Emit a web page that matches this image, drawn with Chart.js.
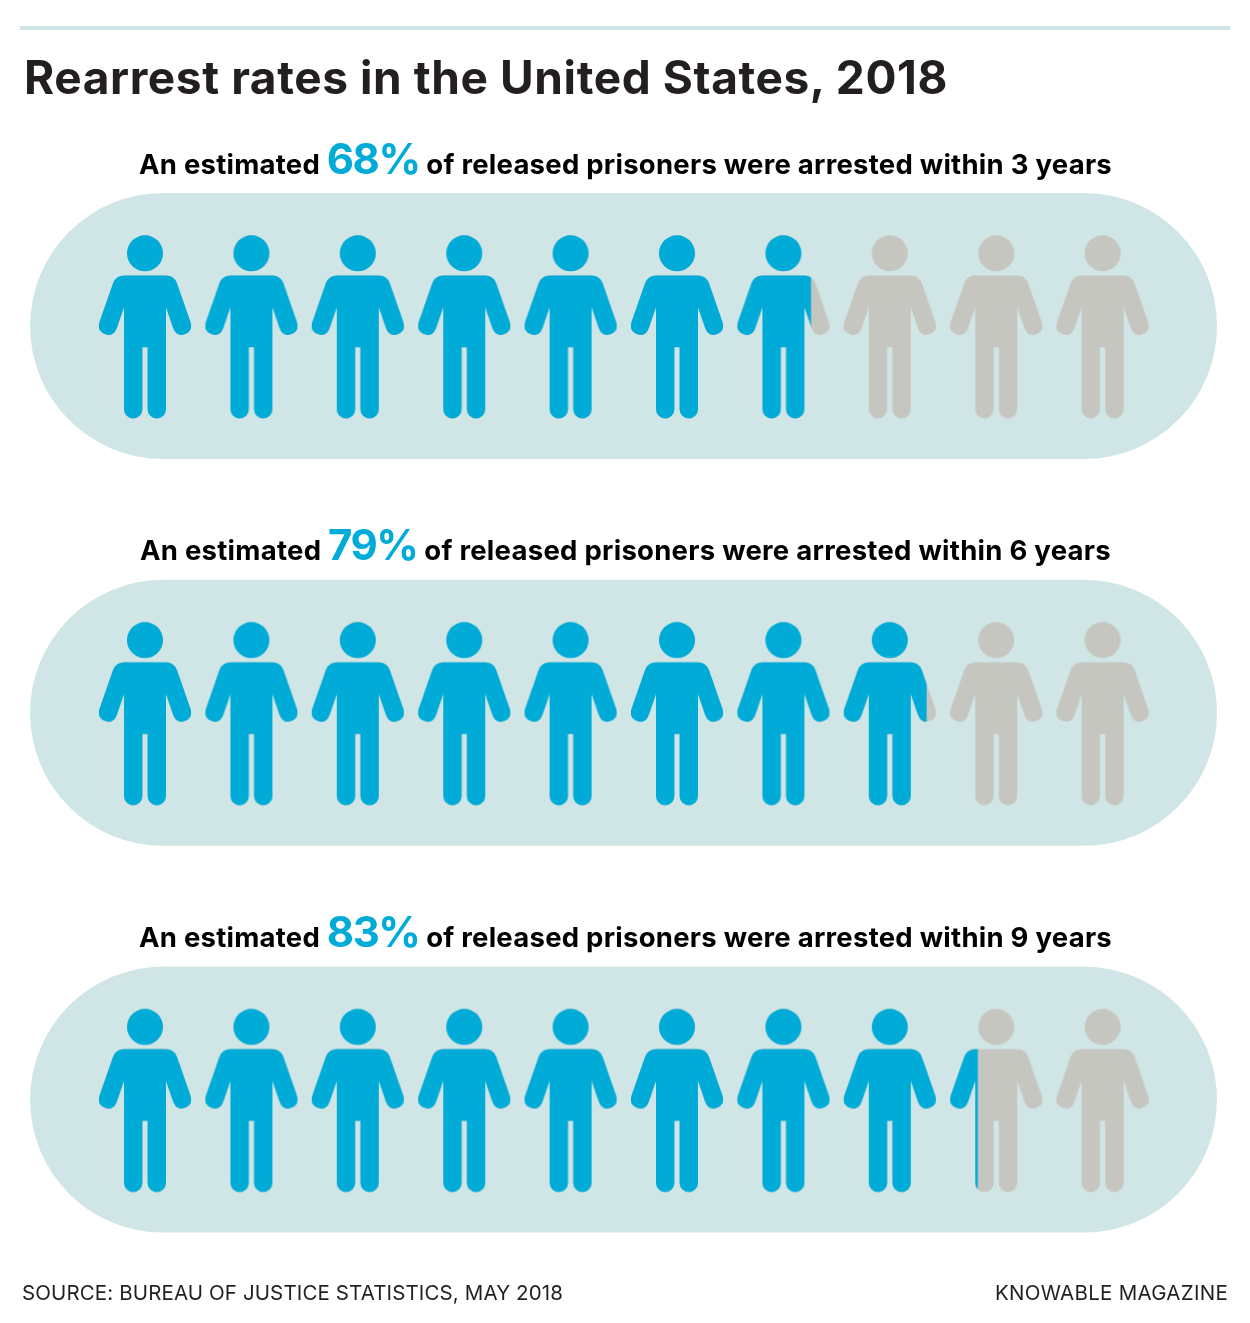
<!DOCTYPE html>
<html>
<head>
<meta charset="utf-8">
<script src="https://cdn.jsdelivr.net/npm/chart.js@4"></script>
<style>
html,body{margin:0;padding:0;background:#fff;overflow:hidden}
#wrap{position:relative;width:1250px;height:1323px;font-family:Inter,sans-serif}
canvas{position:absolute;left:0;top:0}
.t{position:absolute;white-space:nowrap;line-height:60px;height:60px}
#rule{position:absolute;left:20px;top:26px;width:1210px;height:4px;background:#d0e5e5}
#title{font-size:46px;font-weight:700;color:#231f20}
.sub{font-size:27.5px;font-weight:700;color:#000}
.sub b{font-size:42px;font-weight:700;color:#00acd7;letter-spacing:-1.5px}
.foot{font-size:20.5px;color:#231f20}
</style>
</head>
<body>
<div id="wrap">
<canvas id="c" width="1250" height="1323"></canvas>
<div id="rule"></div>
<div class="t" id="title" data-w="924" style="left:24px;top:47px">Rearrest rates in the United States, 2018</div>
<div class="t sub" id="s0" data-w="973" style="left:139px;top:129px"></div>
<div class="t sub" id="s1" data-w="971" style="left:140px;top:515px"></div>
<div class="t sub" id="s2" data-w="973" style="left:139px;top:902px"></div>
<div class="t foot" id="f1" data-w="541" style="left:22px;top:1263px">SOURCE: BUREAU OF JUSTICE STATISTICS, MAY 2018</div>
<div class="t foot" id="f2" data-w="233" style="left:995px;top:1263px">KNOWABLE MAGAZINE</div>
</div>
<script>
const years = [3, 6, 9];
const rates = [68, 79, 83];
const people = [0, 1, 2, 3, 4, 5, 6, 7, 8, 9];
const BLUE = '#00acd7', GRAY = '#c6c6c0', PILL = '#d0e5e5';

years.forEach((y, r) => {
  document.getElementById('s' + r).innerHTML =
    'An estimated <b>' + rates[r] + '%</b> of released prisoners were arrested within ' + y + ' years';
});

// Person glyph, origin at head centre
function personPath(g) {
  g.beginPath();
  g.arc(0, 0, 18, 0, Math.PI * 2);
  g.closePath();
  g.moveTo(-21, 22.3);
  g.lineTo(21, 22.3);
  g.quadraticCurveTo(29, 22.3, 32, 30);
  g.lineTo(45.6, 69);
  g.quadraticCurveTo(48.5, 79, 38, 81.5);
  g.quadraticCurveTo(31, 83, 28, 74.5);
  g.lineTo(21, 54);
  g.lineTo(21, 156);
  g.arc(11.8, 156, 9.2, 0, Math.PI);
  g.lineTo(2.6, 94);
  g.lineTo(-2.6, 94);
  g.lineTo(-2.6, 156);
  g.arc(-11.8, 156, 9.2, 0, Math.PI);
  g.lineTo(-21, 54);
  g.lineTo(-28, 74.5);
  g.quadraticCurveTo(-31, 83, -38, 81.5);
  g.quadraticCurveTo(-48.5, 79, -45.6, 69);
  g.lineTo(-32, 30);
  g.quadraticCurveTo(-29, 22.3, -21, 22.3);
  g.closePath();
}

function personCanvas(frac) {
  const cv = document.createElement('canvas');
  cv.width = 100; cv.height = 190;
  const g = cv.getContext('2d');
  g.translate(50, 22.3);
  personPath(g); g.fillStyle = GRAY; g.fill();
  if (frac > 0) {
    g.save();
    g.beginPath();
    g.rect(-46, -30, 92 * frac, 220);
    g.clip();
    personPath(g); g.fillStyle = BLUE; g.fill();
    g.restore();
  }
  return cv;
}

const pillPlugin = {
  id: 'pills',
  beforeDatasetsDraw(ch) {
    const { ctx, scales: { x, y } } = ch;
    ctx.save();
    ctx.fillStyle = PILL;
    const left = x.getPixelForValue(-1.08), right = x.getPixelForValue(10.075);
    years.forEach((_, r) => {
      const cy = y.getPixelForValue(r);
      ctx.beginPath();
      ctx.roundRect(left, cy - 133, right - left, 266, 133);
      ctx.fill();
    });
    ctx.restore();
  }
};

new Chart(document.getElementById('c'), {
  type: 'scatter',
  data: {
    datasets: rates.map((rate, r) => ({
      label: years[r] + ' years',
      data: people.map(i => ({ x: i, y: r })),
      pointRadius: 10,
      pointStyle: people.map(i => personCanvas(Math.max(0, Math.min(1, rate / 10 - i))))
    }))
  },
  options: {
    responsive: false,
    animation: false,
    events: [],
    layout: { padding: 0, autoPadding: false },
    plugins: { legend: { display: false }, tooltip: { enabled: false } },
    scales: {
      x: { type: 'linear', display: false, min: -145 / 106.4, max: (1250 - 145) / 106.4 },
      y: { type: 'linear', display: false, reverse: true, min: -326 / 386.8, max: (1323 - 326) / 386.8 }
    }
  },
  plugins: [pillPlugin]
});

// Fit letter spacing so each text run spans the same width as the reference
document.fonts.ready.then(() => {
  document.querySelectorAll('.t').forEach(el => {
    const big = el.querySelector('b');
    const n = el.textContent.length - (big ? big.textContent.length : 0);
    const w = el.getBoundingClientRect().width;
    el.style.letterSpacing = ((+el.dataset.w - w) / n) + 'px';
  });
});
</script>
</body>
</html>
